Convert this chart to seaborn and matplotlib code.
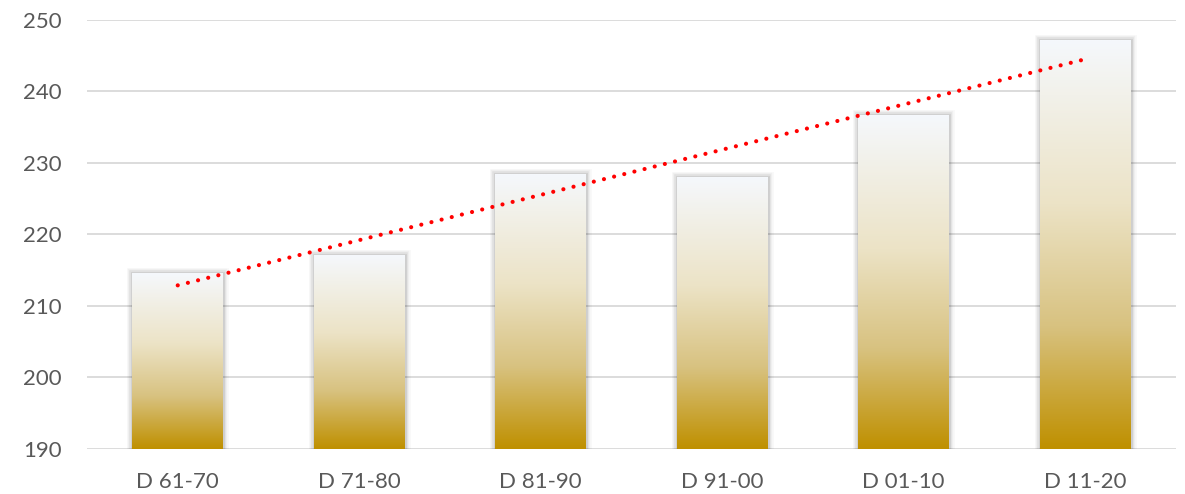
import numpy as np
import pandas as pd
import matplotlib.pyplot as plt
import matplotlib.patheffects as pe
from matplotlib.colors import LinearSegmentedColormap
import seaborn as sns

# values
decades = ["D 61-70", "D 71-80", "D 81-90", "D 91-00", "D 01-10", "D 11-20"]
values = [214.5, 217.1, 228.4, 228.0, 236.7, 247.1]
y_ticks = [190, 200, 210, 220, 230, 240, 250]

sns.set_theme(style="white")
plt.rcParams["font.family"] = ["Lato", "DejaVu Sans"]

TEXT_GREY = "#595959"
GRID_GREY = "#d9d9d9"

df = pd.DataFrame({"decade": decades, "value": values})

fig = plt.figure(figsize=(11.85, 4.94), dpi=100)
ax = fig.add_axes([0.0734, 0.0921, 0.919, 0.8684])

sns.barplot(data=df, x="decade", y="value", width=0.5, color="white",
            linewidth=0, ax=ax, zorder=2)

# gold -> white vertical gradient, per bar
gold = LinearSegmentedColormap.from_list(
    "gold", [(0.0, "#bf9000"), (0.3, "#d8c280"), (0.6, "#ece3c6"), (1.0, "#f5f8fc")])
grad = np.linspace(0, 1, 256).reshape(-1, 1)
y_min = y_ticks[0]

# soft shadow round each bar
shadow = [pe.Stroke(linewidth=8, foreground="black", alpha=0.025),
          pe.Stroke(linewidth=6, foreground="black", alpha=0.04),
          pe.Stroke(linewidth=4, foreground="black", alpha=0.06),
          pe.Stroke(linewidth=2, foreground="black", alpha=0.08)]

for patch in ax.patches:
    x0 = patch.get_x()
    w = patch.get_width()
    top = patch.get_y() + patch.get_height()
    patch.set_facecolor("none")
    patch.set_edgecolor("none")
    patch.set_path_effects(shadow)
    img = ax.imshow(grad, extent=[x0, x0 + w, y_min, top], origin="lower",
                    aspect="auto", cmap=gold, zorder=3, interpolation="bilinear")
    img.set_clip_path(patch)

# linear trend line
x = np.arange(len(values))
coef = np.polyfit(x, values, 1)
trend = np.polyval(coef, x)
sns.lineplot(x=x, y=trend, color="#ff0000", linewidth=3.0,
             linestyle=(0, (0.01, 2.5)), dash_capstyle="round", ax=ax, zorder=5)

ax.set_xlim(-0.5, len(values) - 0.5)
ax.set_ylim(y_ticks[0], y_ticks[-1])
ax.set_yticks(y_ticks)
ax.set_xticks(x)
ax.set_xticklabels(decades)
ax.set_xlabel("")
ax.set_ylabel("")

ax.yaxis.grid(True, color=GRID_GREY, linewidth=1.3)
ax.set_axisbelow(True)
ax.tick_params(axis="y", length=0, pad=18, labelsize=16, labelcolor=TEXT_GREY)
ax.tick_params(axis="x", length=0, pad=17, labelsize=16, labelcolor=TEXT_GREY)

sns.despine(ax=ax, left=True, bottom=True)

fig.savefig("out.png", dpi=100)
